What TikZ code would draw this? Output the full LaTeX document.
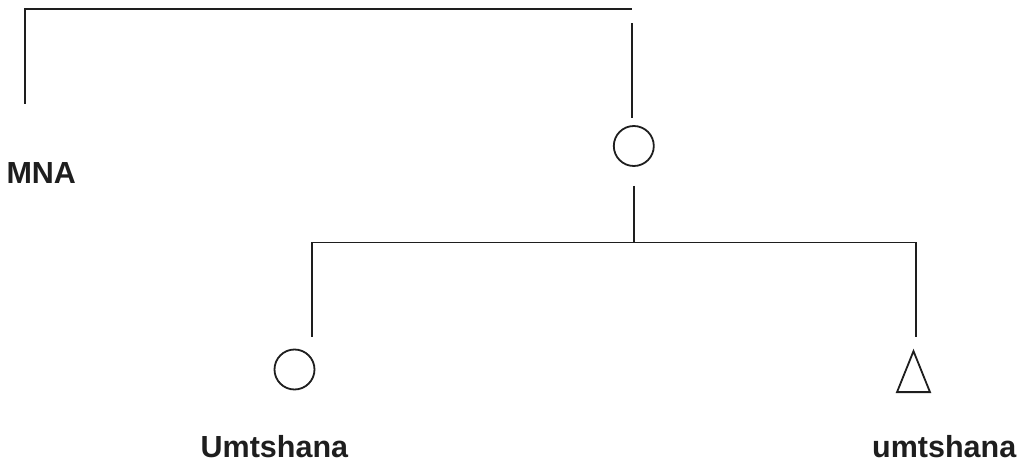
\documentclass[tikz,border=0pt]{standalone}
\usepackage{fontspec}
\setmainfont{Liberation Sans}
\usetikzlibrary{shapes.geometric}
\definecolor{ink}{HTML}{1E1E1E}
\tikzset{
  kinline/.style={draw=ink, line width=1.8pt},
  female/.style={circle, draw=ink, line width=1.8pt, minimum size=40pt, inner sep=0pt},
  male/.style={isosceles triangle, shape border rotate=90, isosceles triangle stretches,
    draw=ink, line width=1.8pt, minimum width=33pt, minimum height=41pt, inner sep=0pt},
  kinlabel/.style={font=\fontsize{30.5}{36}\selectfont\bfseries, text=ink, inner sep=0pt},
}
\begin{document}
\begin{tikzpicture}[x=1pt, y=-1pt]
  \useasboundingbox (0,0) rectangle (1026,468);

  % persons
  \node[female] (ego) at (633.8,146) {};
  \node[female] (dau) at (294.5,369.5) {};
  \node[male] (son) at (913.5,381) {};

  % labels
  \node[kinlabel, anchor=base west] (mna) at (6.3,183.5) {MNA};
  \node[kinlabel, anchor=base west] (dauname) at (200.5,457.3) {Umtshana};
  \node[kinlabel, anchor=base west] (sonname) at (872,457.3) {umtshana};

  % line ends
  \coordinate (mnadrop) at (25.3,104);
  \coordinate (topright) at (632.3,9.3);
  \coordinate (egoup) at (632.3,23.3);
  \coordinate (egoupend) at (632.3,118.3);
  \coordinate (egodown) at (634.3,186);
  \coordinate (sib) at (634.3,242.5);
  \coordinate (dauup) at (312.3,336.7);
  \coordinate (sonup) at (915.7,336.7);

  % connectors
  \draw[kinline] (mnadrop) |- (topright);
  \draw[kinline] (egoup) -- (egoupend);
  \draw[kinline] (egodown) -- (sib);
  \draw[kinline] (dauup) |- (sib) -| (sonup);
\end{tikzpicture}
\end{document}
